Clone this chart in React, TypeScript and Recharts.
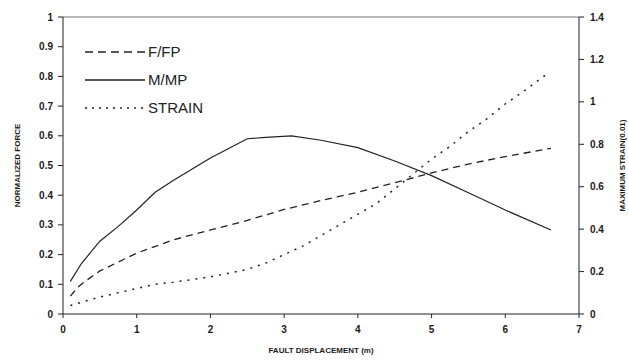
import React from 'react';
import { LineChart, Line, XAxis, YAxis, ReferenceLine } from 'recharts';

const dispF = [0.1, 0.2, 0.3, 0.5, 0.75, 1, 1.5, 2, 2.5, 3, 3.5, 4, 4.5, 5, 5.5, 6, 6.62];
const ffp = [0.06, 0.09, 0.11, 0.145, 0.175, 0.205, 0.25, 0.283, 0.315, 0.352, 0.382, 0.41, 0.442, 0.475, 0.505, 0.53, 0.558];

const dispM = [0.1, 0.25, 0.5, 0.75, 1, 1.25, 1.5, 2, 2.5, 2.75, 3.1, 3.5, 4, 4.5, 5, 5.5, 6, 6.62];
const mmp = [0.11, 0.17, 0.245, 0.295, 0.35, 0.41, 0.45, 0.525, 0.59, 0.595, 0.6, 0.585, 0.56, 0.515, 0.466, 0.408, 0.35, 0.283];

const dispS = [0.1, 0.3, 0.5, 0.75, 1, 1.25, 1.5, 2, 2.5, 2.75, 3, 3.25, 3.5, 3.75, 4, 4.25, 4.5, 4.75, 5, 5.25, 5.5, 5.75, 6, 6.25, 6.6];
const strain = [0.04, 0.06, 0.08, 0.1, 0.12, 0.14, 0.15, 0.175, 0.21, 0.24, 0.28, 0.32, 0.37, 0.42, 0.47, 0.52, 0.59, 0.66, 0.73, 0.79, 0.86, 0.92, 0.99, 1.05, 1.14];

const xTicks = [0, 1, 2, 3, 4, 5, 6, 7];
const leftTicks = [0, 0.1, 0.2, 0.3, 0.4, 0.5, 0.6, 0.7, 0.8, 0.9, 1];
const rightTicks = [0, 0.2, 0.4, 0.6, 0.8, 1, 1.2, 1.4];

const ffpData = dispF.map((x, i) => ({ x, v: ffp[i] }));
const mmpData = dispM.map((x, i) => ({ x, v: mmp[i] }));
const strainData = dispS.map((x, i) => ({ x, v: strain[i] }));

const legendItems = [
  { name: 'F/FP', dash: '8 5' },
  { name: 'M/MP', dash: undefined },
  { name: 'STRAIN', dash: '2 5' },
];

const fontFamily = 'Arial, "Liberation Sans", sans-serif';
const tickStyle = { fontSize: 10, fontWeight: 700, fill: '#1a1a1a', fontFamily };
const labelStyle = { fontSize: 8, fontWeight: 700, fill: '#1a1a1a', fontFamily };

const fmt = (v: number) => String(Math.round(v * 10) / 10);

const LegendBox = () => (
  <div style={{ position: 'absolute', left: 84, top: 38, fontFamily }}>
    {legendItems.map((it) => (
      <div key={it.name} style={{ display: 'flex', alignItems: 'center', height: 28 }}>
        <svg width={62} height={14} style={{ display: 'block' }}>
          <line x1={1} y1={7} x2={61} y2={7} stroke="#222" strokeWidth={1.3} strokeDasharray={it.dash} />
        </svg>
        <span style={{ fontSize: 15, color: '#222', marginLeft: 2, lineHeight: '14px' }}>{it.name}</span>
      </div>
    ))}
  </div>
);

export default function App() {
  return (
    <div style={{ position: 'absolute', left: 0, top: 0, width: 629, height: 362, background: '#fff' }}>
      <LineChart width={629} height={362} margin={{ top: 17, right: 0, bottom: 0, left: 0 }}>
        <XAxis
          dataKey="x"
          type="number"
          domain={[0, 7]}
          ticks={xTicks}
          allowDuplicatedCategory={false}
          height={48}
          stroke="#222"
          tickSize={4}
          tickMargin={8}
          tick={tickStyle}
          label={{ value: 'FAULT DISPLACEMENT (m)', position: 'center', dy: 12, style: labelStyle }}
        />
        <YAxis
          yAxisId="left"
          domain={[0, 1]}
          ticks={leftTicks}
          tickFormatter={fmt}
          width={63}
          stroke="#222"
          tickSize={5}
          tickMargin={5}
          tick={tickStyle}
          label={{ value: 'NORMALIZED FORCE', angle: -90, position: 'center', dx: -14, style: labelStyle }}
        />
        <YAxis
          yAxisId="right"
          orientation="right"
          domain={[0, 1.4]}
          ticks={rightTicks}
          tickFormatter={fmt}
          width={50}
          stroke="#222"
          tickSize={5}
          tickMargin={6}
          tick={tickStyle}
          label={{ value: 'MAXIMUM STRAIN(0.01)', angle: -90, position: 'center', dx: 18, style: labelStyle }}
        />
        <ReferenceLine yAxisId="left" y={1} stroke="#777" strokeWidth={1} />
        <Line
          yAxisId="left"
          data={ffpData}
          dataKey="v"
          name="F/FP"
          stroke="#222"
          strokeWidth={1.3}
          strokeDasharray="7 5"
          dot={false}
          isAnimationActive={false}
        />
        <Line
          yAxisId="left"
          data={mmpData}
          dataKey="v"
          name="M/MP"
          stroke="#222"
          strokeWidth={1.2}
          dot={false}
          isAnimationActive={false}
        />
        <Line
          yAxisId="right"
          data={strainData}
          dataKey="v"
          name="STRAIN"
          stroke="#222"
          strokeWidth={1.5}
          strokeDasharray="2 6"
          dot={false}
          isAnimationActive={false}
        />
      </LineChart>
      <LegendBox />
    </div>
  );
}
